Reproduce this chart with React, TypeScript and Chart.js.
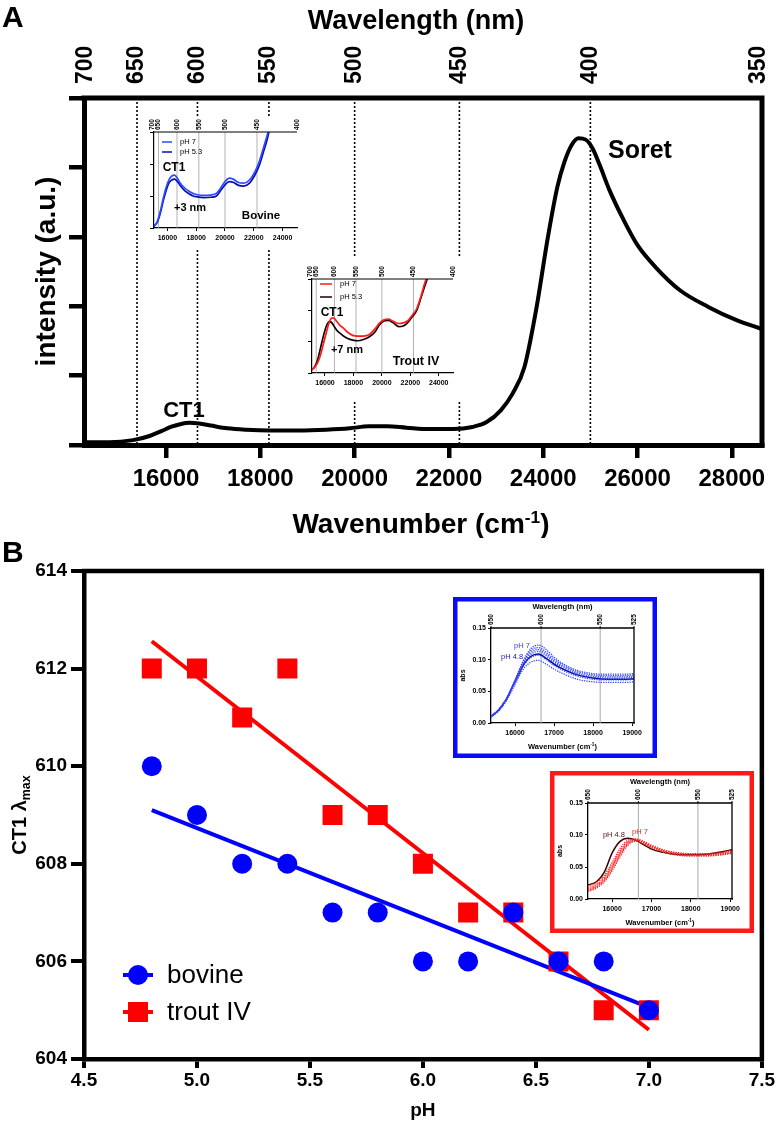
import React, { useEffect, useRef } from "react";
import { Chart, registerables } from "chart.js";

Chart.register(...registerables);

const FONT = '"Liberation Sans", Arial, Helvetica, sans-serif';
Chart.defaults.font.family = FONT;
Chart.defaults.color = "#000";

// ---------------- Panel A : main spectrum ----------------
const wavenumberA = [14260, 14800, 15300, 15650, 15900, 16100, 16300, 16500, 16700, 16950, 17300, 17700, 18200, 18800, 19400, 19900, 20300, 20700, 21100, 21600, 22100, 22500, 22800, 23100, 23350, 23600, 23850, 24100, 24300, 24450, 24600, 24750, 24900, 25050, 25200, 25400, 25700, 26000, 26400, 26900, 27500, 28100, 28640];
const intensityA = [0.04, 0.04, 0.07, 0.13, 0.2, 0.26, 0.3, 0.32, 0.31, 0.28, 0.24, 0.22, 0.21, 0.21, 0.22, 0.24, 0.27, 0.27, 0.25, 0.23, 0.23, 0.26, 0.33, 0.5, 0.74, 1.12, 1.95, 3.0, 3.72, 4.08, 4.32, 4.42, 4.4, 4.27, 4.03, 3.68, 3.25, 2.88, 2.55, 2.23, 1.99, 1.8, 1.67];
const wavenumberTicksA = [16000, 18000, 20000, 22000, 24000, 26000, 28000];
const wavelengthTicksA = [700, 650, 600, 550, 500, 450, 400, 350];
const wavelengthGuidesA = [650, 600, 550, 500, 450, 400];
const intensityTicksA = [0, 1, 2, 3, 4, 5];

// ---------------- Panel A : insets ----------------
const wavenumberBovineInset = [15050, 15300, 15500, 15700, 15900, 16100, 16300, 16500, 16700, 16900, 17200, 17500, 17800, 18100, 18500, 19000, 19400, 19700, 20000, 20300, 20600, 20900, 21300, 21700, 22100, 22400, 22700, 22900, 23100];
const bovinePH7 = [0.05, 0.2, 0.5, 0.9, 1.25, 1.5, 1.62, 1.65, 1.55, 1.4, 1.25, 1.15, 1.08, 1.04, 1.02, 1.03, 1.08, 1.25, 1.45, 1.56, 1.52, 1.43, 1.4, 1.5, 1.78, 2.1, 2.55, 2.85, 3.2];
const bovinePH53 = [0.05, 0.18, 0.45, 0.83, 1.15, 1.4, 1.5, 1.53, 1.45, 1.32, 1.17, 1.07, 1.0, 0.97, 0.95, 0.96, 1.0, 1.17, 1.35, 1.45, 1.42, 1.34, 1.31, 1.4, 1.68, 1.98, 2.42, 2.72, 3.1];
const wavenumberTroutInset = [15090, 15300, 15500, 15700, 15900, 16100, 16300, 16450, 16600, 16800, 17050, 17300, 17600, 17950, 18300, 18700, 19100, 19500, 19850, 20150, 20450, 20800, 21200, 21500, 21800, 22150, 22450, 22750, 23000, 23300];
const troutPH7 = [0.1, 0.2, 0.35, 0.6, 0.95, 1.3, 1.62, 1.75, 1.76, 1.66, 1.52, 1.43, 1.3, 1.2, 1.18, 1.18, 1.22, 1.4, 1.6, 1.7, 1.72, 1.65, 1.58, 1.6, 1.66, 1.85, 2.05, 2.45, 2.85, 3.2];
const troutPH53 = [0.1, 0.22, 0.45, 0.82, 1.2, 1.5, 1.64, 1.62, 1.52, 1.38, 1.27, 1.18, 1.1, 1.05, 1.03, 1.07, 1.15, 1.3, 1.55, 1.66, 1.68, 1.6, 1.48, 1.5, 1.6, 1.8, 2.0, 2.4, 2.75, 3.15];
const insetAWavenumberTicks = [16000, 18000, 20000, 22000, 24000];
const insetAWavelengthTicks = [700, 650, 600, 550, 500, 450, 400];
const insetAGuides = [650, 600, 550, 500, 450];
const insetAIntensityTicks = [0, 1, 2, 3];

// ---------------- Panel B : CT1 lambda max vs pH ----------------
const pH = [4.8, 5.0, 5.2, 5.4, 5.6, 5.8, 6.0, 6.2, 6.4, 6.6, 6.8, 7.0];
const bovineLambda = [610, 609, 608, 608, 607, 607, 606, 606, 607, 606, 606, 605];
const troutLambda = [612, 612, 611, 612, 609, 609, 608, 607, 607, 606, 605, 605];
const fitPH = [4.8, 7.0];
const bovineFit = [609.1, 605.06];
const troutFit = [612.56, 604.6];
const pHTicks = [4.5, 5.0, 5.5, 6.0, 6.5, 7.0, 7.5];
const lambdaTicks = [604, 606, 608, 610, 612, 614];

// ---------------- Panel B : insets ----------------
const wavenumberInsetB = [15385, 15600, 15800, 16000, 16200, 16400, 16600, 16800, 17000, 17300, 17600, 18000, 18400, 18800, 19048];
const bovineAbsSolid = [0.01, 0.022, 0.04, 0.065, 0.09, 0.105, 0.109, 0.102, 0.093, 0.083, 0.076, 0.071, 0.069, 0.069, 0.07];
const bovineAbs1 = [0.011, 0.022, 0.041, 0.068, 0.097, 0.117, 0.123, 0.116, 0.104, 0.091, 0.083, 0.078, 0.077, 0.077, 0.078];
const bovineAbs2 = [0.011, 0.022, 0.041, 0.067, 0.095, 0.114, 0.119, 0.112, 0.101, 0.089, 0.081, 0.076, 0.075, 0.075, 0.076];
const bovineAbs3 = [0.01, 0.022, 0.04, 0.066, 0.093, 0.111, 0.116, 0.109, 0.098, 0.087, 0.079, 0.074, 0.073, 0.073, 0.074];
const bovineAbs4 = [0.01, 0.021, 0.04, 0.065, 0.092, 0.108, 0.113, 0.106, 0.096, 0.085, 0.077, 0.072, 0.071, 0.071, 0.072];
const bovineAbs5 = [0.01, 0.021, 0.039, 0.064, 0.089, 0.103, 0.107, 0.1, 0.091, 0.081, 0.074, 0.069, 0.068, 0.068, 0.069];
const bovineAbs6 = [0.009, 0.02, 0.037, 0.061, 0.084, 0.096, 0.099, 0.093, 0.085, 0.076, 0.069, 0.065, 0.064, 0.064, 0.065];
const troutAbsSolid = [0.022, 0.027, 0.042, 0.072, 0.09, 0.095, 0.092, 0.085, 0.078, 0.073, 0.07, 0.069, 0.07, 0.074, 0.077];
const troutAbs1 = [0.02, 0.026, 0.037, 0.057, 0.079, 0.092, 0.094, 0.09, 0.084, 0.077, 0.073, 0.071, 0.071, 0.073, 0.076];
const troutAbs2 = [0.017, 0.023, 0.034, 0.053, 0.075, 0.09, 0.093, 0.089, 0.083, 0.076, 0.072, 0.07, 0.07, 0.072, 0.074];
const troutAbs3 = [0.015, 0.021, 0.031, 0.05, 0.072, 0.088, 0.092, 0.088, 0.082, 0.075, 0.071, 0.069, 0.069, 0.071, 0.073];
const troutAbs4 = [0.013, 0.019, 0.029, 0.047, 0.069, 0.086, 0.091, 0.087, 0.081, 0.074, 0.07, 0.068, 0.068, 0.07, 0.072];
const troutAbs5 = [0.012, 0.017, 0.027, 0.044, 0.066, 0.084, 0.09, 0.086, 0.08, 0.073, 0.069, 0.067, 0.067, 0.069, 0.071];
const absTicks = [0, 0.05, 0.1, 0.15];
const insetBWavenumberTicks = [16000, 17000, 18000, 19000];
const insetBWavelengthTicks = [650, 600, 550, 525];
const insetBGuides = [600, 550];

// ---------------- helpers ----------------
const pts = (xs: number[], ys: number[]) => xs.map((x, i) => ({ x, y: ys[i] }));
const nmToWavenumber = (nm: number) => 1e7 / nm;

type Seg = { t: string; sup?: boolean; sub?: boolean };
function drawRich(ctx: CanvasRenderingContext2D, segs: Seg[], x: number, y: number, size: number, o: { rotate?: boolean; color?: string; weight?: string } = {}) {
  const weight = o.weight ?? "bold";
  const small = size * 0.62;
  ctx.save();
  ctx.translate(x, y);
  if (o.rotate) ctx.rotate(-Math.PI / 2);
  ctx.fillStyle = o.color ?? "#000";
  ctx.textBaseline = "alphabetic";
  ctx.textAlign = "left";
  const widths = segs.map((s) => {
    ctx.font = `${weight} ${s.sup || s.sub ? small : size}px ${FONT}`;
    return ctx.measureText(s.t).width;
  });
  let cx = -widths.reduce((a, b) => a + b, 0) / 2;
  const base = size * 0.36;
  segs.forEach((s, i) => {
    ctx.font = `${weight} ${s.sup || s.sub ? small : size}px ${FONT}`;
    const dy = s.sup ? -size * 0.36 : s.sub ? size * 0.2 : 0;
    ctx.fillText(s.t, cx, base + dy);
    cx += widths[i];
  });
  ctx.restore();
}

function drawFrame(ctx: CanvasRenderingContext2D, a: any, w: number, color: string, top: boolean, right: boolean) {
  ctx.save();
  ctx.strokeStyle = color;
  ctx.lineWidth = w;
  ctx.beginPath();
  if (top) {
    ctx.moveTo(a.left - w / 2, a.top);
    ctx.lineTo(a.right + (right ? w / 2 : 0), a.top);
  }
  if (right) {
    ctx.moveTo(a.right, a.top);
    ctx.lineTo(a.right, a.bottom + w / 2);
  }
  ctx.stroke();
  ctx.restore();
}

type Note = { text: string; x: number; y: number; size: number; weight?: string; color?: string };
function drawNotes(chart: any, notes: Note[]) {
  const { ctx } = chart;
  const xs = chart.scales.x;
  const ys = chart.scales.y;
  ctx.save();
  ctx.textAlign = "center";
  ctx.textBaseline = "middle";
  for (const n of notes) {
    ctx.font = `${n.weight ?? "bold"} ${n.size}px ${FONT}`;
    ctx.fillStyle = n.color ?? "#000";
    ctx.fillText(n.text, xs.getPixelForValue(n.x), ys.getPixelForValue(n.y));
  }
  ctx.restore();
}

function drawLineLegend(chart: any, o: { x0: number; x1: number; tx: number; rows: number[]; size: number; width: number }) {
  const { ctx, chartArea: a } = chart;
  ctx.save();
  ctx.font = `${o.size}px ${FONT}`;
  ctx.textAlign = "left";
  ctx.textBaseline = "middle";
  chart.data.datasets.forEach((ds: any, i: number) => {
    const y = a.top + o.rows[i];
    ctx.strokeStyle = ds.borderColor;
    ctx.lineWidth = o.width;
    ctx.beginPath();
    ctx.moveTo(a.left + o.x0, y);
    ctx.lineTo(a.left + o.x1, y);
    ctx.stroke();
    ctx.fillStyle = "#000";
    ctx.fillText(ds.label, a.left + o.tx, y);
  });
  ctx.restore();
}

function wavelengthPlugin(id: string, o: { labels: number[]; guides: number[]; guideColor: string; guideWidth: number; guideDash: number[]; fontSize: number; gap: number; tickLen?: number; tickWidth?: number }) {
  return {
    id,
    beforeDatasetsDraw(chart: any) {
      const { ctx, chartArea: a } = chart;
      const xs = chart.scales.x;
      ctx.save();
      ctx.strokeStyle = o.guideColor;
      ctx.lineWidth = o.guideWidth;
      ctx.setLineDash(o.guideDash);
      for (const wl of o.guides) {
        const px = xs.getPixelForValue(nmToWavenumber(wl));
        ctx.beginPath();
        ctx.moveTo(px, a.top);
        ctx.lineTo(px, a.bottom);
        ctx.stroke();
      }
      ctx.restore();
    },
    afterDraw(chart: any) {
      const { ctx, chartArea: a } = chart;
      const xs = chart.scales.x;
      ctx.save();
      ctx.fillStyle = "#000";
      ctx.strokeStyle = "#000";
      ctx.font = `bold ${o.fontSize}px ${FONT}`;
      ctx.textAlign = "left";
      ctx.textBaseline = "middle";
      for (const wl of o.labels) {
        let px = xs.getPixelForValue(nmToWavenumber(wl));
        px = Math.max(a.left - o.fontSize * 0.3, Math.min(a.right + o.fontSize * 0.3, px));
        if (o.tickLen) {
          ctx.lineWidth = o.tickWidth ?? 1;
          ctx.beginPath();
          ctx.moveTo(px, a.top);
          ctx.lineTo(px, a.top - o.tickLen);
          ctx.stroke();
        }
        ctx.save();
        ctx.translate(px, a.top - o.gap);
        ctx.rotate(-Math.PI / 2);
        ctx.fillText(String(wl), 0, 0);
        ctx.restore();
      }
      ctx.restore();
    },
  };
}

const whiteBg = {
  id: "whiteBg",
  beforeDraw(chart: any) {
    const { ctx, width, height } = chart;
    ctx.save();
    ctx.fillStyle = "#fff";
    ctx.fillRect(0, 0, width, height);
    ctx.restore();
  },
};

function axis(o: {
  position: "left" | "bottom"; min: number; max: number; ticks: number[]; fmt: (v: number) => string;
  size: number; fontSize: number; pad: number; tickLen: number; tickW: number; borderW: number;
  title?: { text: string; size: number; padTop?: number; padBottom?: number };
}) {
  const horiz = o.position === "bottom";
  return {
    type: "linear",
    position: o.position,
    min: o.min,
    max: o.max,
    afterBuildTicks: (s: any) => {
      s.ticks = o.ticks.map((v) => ({ value: v }));
    },
    afterFit: (s: any) => {
      if (horiz) {
        s.height = o.size;
        s.paddingLeft = 0;
        s.paddingRight = 0;
      } else {
        s.width = o.size;
        s.paddingTop = 0;
        s.paddingBottom = 0;
      }
    },
    ticks: {
      callback: (v: any) => o.fmt(Number(v)),
      autoSkip: false,
      maxRotation: 0,
      minRotation: 0,
      padding: o.pad,
      color: "#000",
      font: { size: o.fontSize, weight: "bold", family: FONT },
    },
    grid: { drawOnChartArea: false, drawTicks: true, tickLength: o.tickLen, tickWidth: o.tickW, tickColor: "#000", color: "#000", lineWidth: o.tickW },
    border: { display: true, color: "#000", width: o.borderW },
    title: o.title
      ? { display: true, text: o.title.text, color: "#000", font: { size: o.title.size, weight: "bold", family: FONT }, padding: { top: o.title.padTop ?? 0, bottom: o.title.padBottom ?? 0 } }
      : { display: false },
  };
}

const baseOptions = (padding: any) => ({
  responsive: false,
  maintainAspectRatio: false,
  animation: false,
  devicePixelRatio: 1,
  events: [],
  layout: { padding },
  plugins: { legend: { display: false }, tooltip: { enabled: false }, title: { display: false } },
});

const curve = (label: string, xs: number[], ys: number[], color: string, width: number, dash: number[] = []) => ({
  label,
  data: pts(xs, ys),
  borderColor: color,
  backgroundColor: color,
  borderWidth: width,
  borderDash: dash,
  pointRadius: 0,
  fill: false,
  cubicInterpolationMode: "monotone",
});

// ---------------- chart configs ----------------
function configMainA() {
  return {
    type: "line",
    data: { datasets: [curve("spectrum", wavenumberA, intensityA, "#000", 4)] },
    options: {
      ...baseOptions({ left: 0, top: 98, right: 14, bottom: 0 }),
      scales: {
        x: axis({ position: "bottom", min: 14260, max: 28640, ticks: wavenumberTicksA, fmt: (v) => String(v), size: 93, fontSize: 24, pad: 7, tickLen: 13, tickW: 4.5, borderW: 5 }),
        y: axis({ position: "left", min: 0, max: 5, ticks: intensityTicksA, fmt: () => "", size: 84, fontSize: 10, pad: 0, tickLen: 15, tickW: 4.5, borderW: 5, title: { text: "intensity (a.u.)", size: 28, padTop: 30 } }),
      },
    },
    plugins: [
      wavelengthPlugin("wlA", { labels: wavelengthTicksA, guides: wavelengthGuidesA, guideColor: "#000", guideWidth: 1.6, guideDash: [2, 2], fontSize: 23, gap: 14 }),
      {
        id: "decorA",
        afterDraw(chart: any) {
          const { ctx, chartArea: a } = chart;
          drawFrame(ctx, a, 5, "#000", true, true);
          drawNotes(chart, [
            { text: "CT1", x: 16381, y: 0.49, size: 22 },
            { text: "Soret", x: 26052, y: 4.24, size: 25 },
          ]);
          drawRich(ctx, [{ t: "Wavelength (nm)" }], 416, 19, 27);
          drawRich(ctx, [{ t: "Wavenumber (cm" }, { t: "-1", sup: true }, { t: ")" }], 421, a.bottom + 78, 28);
          ctx.save();
          ctx.font = `bold 30px ${FONT}`;
          ctx.fillStyle = "#000";
          ctx.textAlign = "left";
          ctx.textBaseline = "middle";
          ctx.fillText("A", 2, 19);
          ctx.restore();
        },
      },
    ],
  };
}

function configInsetA(kind: "bovine" | "trout") {
  const bov = kind === "bovine";
  const datasets = bov
    ? [curve("pH 7", wavenumberBovineInset, bovinePH7, "#2b4bff", 1.7), curve("pH 5.3", wavenumberBovineInset, bovinePH53, "#0b0bb0", 1.7)]
    : [curve("pH 7", wavenumberTroutInset, troutPH7, "#ff1a1a", 1.7), curve("pH 5.3", wavenumberTroutInset, troutPH53, "#1a0000", 1.7)];
  const notes: Note[] = bov
    ? [
        { text: "CT1", x: 16459, y: 1.875, size: 12 },
        { text: "+3 nm", x: 17570, y: 0.625, size: 11 },
        { text: "Bovine", x: 22500, y: 0.375, size: 11.5 },
      ]
    : [
        { text: "CT1", x: 16494, y: 1.92, size: 12 },
        { text: "+7 nm", x: 17548, y: 0.73, size: 11 },
        { text: "Trout IV", x: 22399, y: 0.35, size: 12.5 },
      ];
  const pad = bov ? { left: 0, top: 15, right: 7, bottom: 0 } : { left: 0, top: 21, right: 10, bottom: 0 };
  return {
    type: "line",
    data: { datasets },
    options: {
      ...baseOptions(pad),
      scales: {
        x: axis({ position: "bottom", min: bov ? 15070 : 15088, max: 25000, ticks: insetAWavenumberTicks, fmt: (v) => String(v), size: bov ? 20 : 29, fontSize: 7, pad: 3, tickLen: 3, tickW: 1, borderW: 1.2 }),
        y: axis({ position: "left", min: 0, max: 3, ticks: insetAIntensityTicks, fmt: () => "", size: bov ? 8 : 9, fontSize: 6, pad: 0, tickLen: 4, tickW: 1, borderW: 1.2 }),
      },
    },
    plugins: [
      whiteBg,
      wavelengthPlugin("wlInsetA", { labels: insetAWavelengthTicks, guides: insetAGuides, guideColor: "#a0a0a0", guideWidth: 0.8, guideDash: [], fontSize: 6.5, gap: 2 }),
      {
        id: "decorInsetA",
        afterDraw(chart: any) {
          const { ctx, chartArea: a } = chart;
          drawFrame(ctx, a, 1.2, "#000", true, false);
          drawNotes(chart, notes);
          drawLineLegend(chart, bov ? { x0: 8, x1: 18, tx: 26, rows: [10, 20], size: 7.5, width: 1.5 } : { x0: 8, x1: 20, tx: 28, rows: [5, 18], size: 7.5, width: 1.5 });
        },
      },
    ],
  };
}

function configMainB() {
  return {
    type: "scatter",
    data: {
      datasets: [
        { label: "bovine", data: pts(pH, bovineLambda), pointStyle: "circle", pointRadius: 10, pointBorderWidth: 0, backgroundColor: "#0000ff", borderColor: "#0000ff", order: 0 },
        { label: "trout IV", data: pts(pH, troutLambda), pointStyle: "rect", pointRadius: 14.14, pointBorderWidth: 0, backgroundColor: "#ff0000", borderColor: "#ff0000", order: 1 },
        { label: "bovine fit", data: pts(fitPH, bovineFit), showLine: true, pointRadius: 0, borderColor: "#0000ff", borderWidth: 4, order: 2 },
        { label: "trout IV fit", data: pts(fitPH, troutFit), showLine: true, pointRadius: 0, borderColor: "#ff0000", borderWidth: 4, order: 3 },
      ],
    },
    options: {
      ...baseOptions({ left: 0, top: 33, right: 10, bottom: 0 }),
      scales: {
        x: axis({ position: "bottom", min: 4.5, max: 7.5, ticks: pHTicks, fmt: (v) => v.toFixed(1), size: 68, fontSize: 19, pad: 1, tickLen: 9, tickW: 4, borderW: 4.5, title: { text: "pH", size: 19, padBottom: 5 } }),
        y: axis({ position: "left", min: 604, max: 614, ticks: lambdaTicks, fmt: (v) => String(v), size: 84, fontSize: 19, pad: 4, tickLen: 13, tickW: 4, borderW: 4.5 }),
      },
    },
    plugins: [
      {
        id: "decorB",
        afterDraw(chart: any) {
          const { ctx, chartArea: a } = chart;
          drawFrame(ctx, a, 4.5, "#000", true, true);
          drawRich(ctx, [{ t: "CT1 λ" }, { t: "max", sub: true }], 19, (a.top + a.bottom) / 2, 20, { rotate: true });
          // legend
          const ds = chart.data.datasets;
          const rows = [a.top + 404, a.top + 441];
          ctx.save();
          ctx.font = `26px ${FONT}`;
          ctx.textAlign = "left";
          ctx.textBaseline = "middle";
          [0, 1].forEach((i) => {
            const y = rows[i];
            const color = ds[i].backgroundColor;
            ctx.strokeStyle = color;
            ctx.fillStyle = color;
            ctx.lineWidth = 4;
            ctx.beginPath();
            ctx.moveTo(a.left + 39, y);
            ctx.lineTo(a.left + 69, y);
            ctx.stroke();
            const cx = a.left + 54;
            if (i === 0) {
              ctx.beginPath();
              ctx.arc(cx, y, 10, 0, Math.PI * 2);
              ctx.fill();
            } else {
              ctx.fillRect(cx - 10, y - 10, 20, 20);
            }
            ctx.fillStyle = "#000";
            ctx.fillText(ds[i].label, a.left + 83, y + 1);
          });
          ctx.restore();
          ctx.save();
          ctx.font = `bold 30px ${FONT}`;
          ctx.fillStyle = "#000";
          ctx.textAlign = "left";
          ctx.textBaseline = "middle";
          ctx.fillText("B", 2, 16);
          ctx.restore();
        },
      },
    ],
  };
}

function configInsetB(kind: "bovine" | "trout") {
  const bov = kind === "bovine";
  const dot = [1.3, 1.1];
  const datasets = bov
    ? [
        curve("pH 7", wavenumberInsetB, bovineAbs1, "#3347ff", 1.25, dot),
        curve("pH 6.6", wavenumberInsetB, bovineAbs2, "#3347ff", 1.25, dot),
        curve("pH 6.2", wavenumberInsetB, bovineAbs3, "#3347ff", 1.25, dot),
        curve("pH 5.8", wavenumberInsetB, bovineAbs4, "#3347ff", 1.25, dot),
        curve("pH 5.4", wavenumberInsetB, bovineAbs5, "#3347ff", 1.25, dot),
        curve("pH 5.0", wavenumberInsetB, bovineAbs6, "#3347ff", 1.25, dot),
        curve("pH 4.8", wavenumberInsetB, bovineAbsSolid, "#0000a0", 1.5),
      ]
    : [
        curve("pH 7", wavenumberInsetB, troutAbs1, "#ff2222", 1.25, dot),
        curve("pH 6.4", wavenumberInsetB, troutAbs2, "#ff2222", 1.25, dot),
        curve("pH 6.0", wavenumberInsetB, troutAbs3, "#ff2222", 1.25, dot),
        curve("pH 5.6", wavenumberInsetB, troutAbs4, "#ff2222", 1.25, dot),
        curve("pH 5.2", wavenumberInsetB, troutAbs5, "#ff2222", 1.25, dot),
        curve("pH 4.8", wavenumberInsetB, troutAbsSolid, "#3a0000", 1.5),
      ];
  const notes: Note[] = bov
    ? [
        { text: "pH 7", x: 16179, y: 0.1216, size: 7.5, weight: "normal", color: "#3a3aff" },
        { text: "pH 4.8", x: 15923, y: 0.104, size: 7.5, weight: "normal", color: "#1a1ab0" },
      ]
    : [
        { text: "pH 4.8", x: 16046, y: 0.1, size: 7.5, weight: "normal", color: "#5a0f0f" },
        { text: "pH 7", x: 16708, y: 0.1047, size: 7.5, weight: "normal", color: "#ff2020" },
      ];
  const boxColor = bov ? "#0a0aff" : "#ff1a1a";
  return {
    type: "line",
    data: { datasets },
    options: {
      ...baseOptions(bov ? { left: 0, top: 31, right: 23, bottom: 0 } : { left: 0, top: 32, right: 22, bottom: 0 }),
      scales: {
        x: axis({ position: "bottom", min: 15385, max: 19048, ticks: insetBWavenumberTicks, fmt: (v) => String(v), size: bov ? 35 : 34, fontSize: 7, pad: 3, tickLen: 3, tickW: 1, borderW: 1.3 }),
        y: axis({ position: "left", min: 0, max: 0.15, ticks: absTicks, fmt: (v) => v.toFixed(2), size: 38, fontSize: 7, pad: 2, tickLen: 3, tickW: 1, borderW: 1.3, title: { text: "abs", size: 7, padTop: 6 } }),
      },
    },
    plugins: [
      whiteBg,
      wavelengthPlugin("wlInsetB", { labels: insetBWavelengthTicks, guides: insetBGuides, guideColor: "#a8a8a8", guideWidth: 1, guideDash: [], fontSize: 6.5, gap: 3, tickLen: 2, tickWidth: 1 }),
      {
        id: "decorInsetB",
        afterDraw(chart: any) {
          const { ctx, chartArea: a, width, height } = chart;
          drawFrame(ctx, a, 1.3, "#000", true, true);
          drawNotes(chart, notes);
          const cx = (a.left + a.right) / 2;
          drawRich(ctx, [{ t: "Wavelength (nm)" }], cx, bov ? 9 : 10, 7.5);
          drawRich(ctx, [{ t: "Wavenumber (cm" }, { t: "-1", sup: true }, { t: ")" }], cx, bov ? 149 : 151, 7.5);
          ctx.save();
          ctx.strokeStyle = boxColor;
          ctx.lineWidth = 4.5;
          ctx.strokeRect(2.25, 2.25, width - 4.5, height - 4.5);
          ctx.restore();
        },
      },
    ],
  };
}

// ---------------- React ----------------
function ChartCanvas({ left, top, width, height, make }: { left: number; top: number; width: number; height: number; make: () => any }) {
  const ref = useRef<HTMLCanvasElement | null>(null);
  useEffect(() => {
    if (!ref.current) return;
    const chart = new Chart(ref.current, make());
    return () => chart.destroy();
  }, []);
  return <canvas ref={ref} width={width} height={height} style={{ position: "absolute", left, top, width, height }} />;
}

export default function App() {
  return (
    <div style={{ position: "absolute", left: 0, top: 0, width: 776, height: 1127, background: "#fff", overflow: "hidden" }}>
      <ChartCanvas left={0} top={0} width={776} height={538} make={configMainA} />
      <ChartCanvas left={146} top={117} width={158} height={131} make={() => configInsetA("bovine")} />
      <ChartCanvas left={303} top={258} width={160} height={144} make={() => configInsetA("trout")} />
      <ChartCanvas left={0} top={538} width={776} height={589} make={configMainB} />
      <ChartCanvas left={453} top={597} width={204} height={161} make={() => configInsetB("bovine")} />
      <ChartCanvas left={550} top={771} width={204} height={162} make={() => configInsetB("trout")} />
    </div>
  );
}
